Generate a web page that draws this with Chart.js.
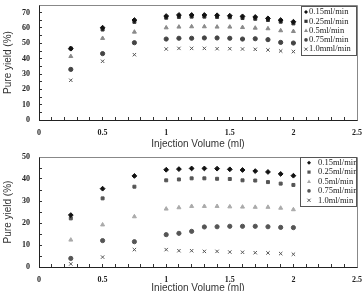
<!DOCTYPE html>
<html>
<head>
<meta charset="utf-8">
<script src="https://cdn.jsdelivr.net/npm/chart.js@4"></script>
<style>
  body { margin: 0; width: 362px; height: 291px; overflow: hidden; background: #fff; position: relative; }
  #topChart { position: absolute; left: 0; top: 0; }
  #botChart { position: absolute; left: 0; top: 150px; }
</style>
</head>
<body>
<canvas id="topChart" width="362" height="150"></canvas>
<canvas id="botChart" width="362" height="144"></canvas>
<script>
// injection volume (ml)
const volumes = [0.25, 0.5, 0.75, 1.0, 1.1, 1.2, 1.3, 1.4, 1.5, 1.6, 1.7, 1.8, 1.9, 2.0];

// top panel, pure yield (%)
const topLabels = ['0.15ml/min', '0.25ml/min', '0.5ml/min', '0.75ml/min', '1.0mml/min'];
const top015 = [46.5, 60.2, 65.2, 67.8, 68.5, 68.5, 68.5, 68.3, 68.0, 67.6, 67.2, 66.3, 65.2, 64.1];
const top025 = [46.7, 59.0, 64.0, 66.7, 67.2, 67.4, 67.4, 67.2, 67.0, 66.5, 66.0, 65.2, 64.1, 63.0];
const top05  = [41.5, 53.3, 57.4, 60.2, 60.7, 60.9, 60.9, 60.7, 60.7, 60.4, 60.0, 59.6, 58.3, 57.8];
const top075 = [33.0, 43.3, 50.4, 52.8, 53.3, 53.3, 53.5, 53.5, 53.3, 52.8, 53.0, 52.4, 50.6, 50.2];
const top10  = [25.9, 38.3, 42.6, 46.3, 46.7, 46.7, 46.7, 46.5, 46.5, 46.3, 46.1, 45.7, 45.0, 44.6];

// bottom panel, pure yield (%)
const botLabels = ['0.15ml/min', '0.25ml/min', '0.5ml/min', '0.75ml/min', '1.0ml/min'];
const bot015 = [23.6, 35.6, 41.4, 44.2, 44.5, 44.8, 44.8, 44.7, 44.4, 44.1, 43.6, 43.2, 42.3, 41.5];
const bot025 = [22.1, 31.2, 36.5, 39.4, 39.8, 40.3, 40.3, 40.1, 40.0, 39.4, 39.3, 38.6, 37.9, 37.3];
const bot05  = [12.3, 19.2, 22.9, 26.4, 27.0, 27.6, 27.6, 27.6, 27.4, 27.3, 27.2, 27.2, 26.8, 26.1];
const bot075 = [3.9, 12.0, 11.5, 14.7, 15.3, 16.2, 18.2, 18.3, 18.5, 18.5, 18.5, 18.3, 18.0, 17.9];
const bot10  = [1.4, 4.5, 7.9, 7.9, 7.4, 7.4, 7.1, 7.1, 6.8, 6.7, 6.5, 6.4, 6.1, 5.8];

const styles = ['rectRot', 'rect', 'triangle', 'circle', 'crossRot'];
const topColors = ['#111', '#333', '#8a8a8a', '#444', '#555'];
const botColors = ['#111', '#555', '#aaa', '#555', '#555'];
const radii = [2.4, 2.1, 2.3, 2.1, 2.4];

function toPoints(vals) {
  return vals.map((v, i) => ({ x: volumes[i], y: v }));
}

function makeSets(labels, series, colors) {
  return series.map((vals, i) => ({
    label: labels[i],
    data: toPoints(vals),
    pointStyle: styles[i],
    pointRadius: radii[i],
    backgroundColor: colors[i],
    borderColor: colors[i],
    borderWidth: 1,
    showLine: false
  }));
}

// grey frame on the top and right of the plot
const frame = {
  id: 'frame',
  beforeDatasetsDraw(chart) {
    const a = chart.chartArea, ctx = chart.ctx;
    ctx.save();
    ctx.strokeStyle = '#888';
    ctx.lineWidth = 1;
    ctx.beginPath();
    ctx.moveTo(Math.round(a.left) + 0.5, Math.round(a.top) + 0.5);
    ctx.lineTo(Math.round(a.right) + 0.5, Math.round(a.top) + 0.5);
    ctx.lineTo(Math.round(a.right) + 0.5, Math.round(a.bottom) + 0.5);
    ctx.stroke();
    ctx.restore();
  }
};

function marker(ctx, style, x, y, r) {
  ctx.beginPath();
  if (style === 'rectRot') {
    ctx.moveTo(x, y - r); ctx.lineTo(x + r, y); ctx.lineTo(x, y + r); ctx.lineTo(x - r, y); ctx.closePath(); ctx.fill();
  } else if (style === 'rect') {
    ctx.fillRect(x - r * 0.8, y - r * 0.8, r * 1.6, r * 1.6);
  } else if (style === 'triangle') {
    ctx.moveTo(x, y - r); ctx.lineTo(x + r, y + r * 0.7); ctx.lineTo(x - r, y + r * 0.7); ctx.closePath(); ctx.fill();
  } else if (style === 'circle') {
    ctx.arc(x, y, r * 0.9, 0, Math.PI * 2); ctx.fill();
  } else {
    ctx.moveTo(x - r * 0.8, y - r * 0.8); ctx.lineTo(x + r * 0.8, y + r * 0.8);
    ctx.moveTo(x + r * 0.8, y - r * 0.8); ctx.lineTo(x - r * 0.8, y + r * 0.8);
    ctx.stroke();
  }
}

// boxed legend inside the plot, top right
const boxLegend = {
  id: 'boxLegend',
  afterDraw(chart, args, o) {
    const ctx = chart.ctx;
    ctx.save();
    ctx.fillStyle = '#fff';
    ctx.fillRect(o.x, o.y, o.w, o.h);
    ctx.strokeStyle = '#555';
    ctx.lineWidth = 1;
    ctx.strokeRect(o.x + 0.5, o.y + 0.5, o.w, o.h);
    ctx.beginPath();
    ctx.rect(o.x + 1, o.y + 1, o.w - 1, o.h - 1);
    ctx.clip();
    chart.data.datasets.forEach((ds, i) => {
      const y = o.y + o.first + i * o.step;
      ctx.fillStyle = ds.backgroundColor;
      ctx.strokeStyle = ds.borderColor;
      marker(ctx, ds.pointStyle, o.mx, y, 2);
      ctx.fillStyle = '#222';
      ctx.font = '8.5px "Liberation Serif", serif';
      ctx.textBaseline = 'middle';
      ctx.textAlign = 'left';
      ctx.fillText(ds.label, o.tx, y);
    });
    ctx.restore();
  }
};

function makeChart(id, sets, yMax, padTop, xHeight, legend) {
  return new Chart(document.getElementById(id), {
    type: 'scatter',
    data: { datasets: sets },
    options: {
      responsive: false,
      animation: false,
      layout: { padding: { top: padTop, right: 5, left: 0, bottom: 0 } },
      plugins: { legend: { display: false }, tooltip: { enabled: false }, boxLegend: legend },
      scales: {
        x: {
          type: 'linear',
          min: 0, max: 2.5,
          afterFit: s => { s.height = xHeight; s.paddingLeft = 0; s.paddingRight = 0; },
          grid: { drawOnChartArea: false, tickLength: -3, color: '#333' },
          border: { color: '#222' },
          ticks: {
            stepSize: 0.1, autoSkip: false, maxRotation: 0, padding: 11,
            color: '#222', font: { family: '"Liberation Serif", serif', size: 8, weight: 'bold' },
            callback: v => Math.abs(v * 2 - Math.round(v * 2)) < 1e-6 ? String(Math.round(v * 10) / 10) : ''
          },
          title: {
            display: true, text: 'Injection Volume (ml)', color: '#333',
            font: { family: '"Liberation Sans", Arial, sans-serif', size: 10 },
            padding: 0
          }
        },
        y: {
          min: 0, max: yMax,
          afterFit: s => { s.width = 39; s.paddingTop = 0; s.paddingBottom = 0; },
          grid: { drawOnChartArea: false, tickLength: -3, color: '#333' },
          border: { color: '#222' },
          ticks: {
            stepSize: 5, autoSkip: false, padding: 12,
            color: '#222', font: { family: '"Liberation Serif", serif', size: 8, weight: 'bold' },
            callback: v => v % 10 === 0 ? String(v) : ''
          },
          title: {
            display: true, text: 'Pure yield (%)', color: '#333',
            font: { family: '"Liberation Sans", Arial, sans-serif', size: 10 },
            padding: 2
          }
        }
      }
    },
    plugins: [frame, boxLegend]
  });
}

makeChart('topChart',
  makeSets(topLabels, [top015, top025, top05, top075, top10], topColors),
  75, 5, 30,
  { x: 301, y: 6, w: 55, h: 49, first: 6, step: 9.3, mx: 306, tx: 309 });

makeChart('botChart',
  makeSets(botLabels, [bot015, bot025, bot05, bot075, bot10], botColors),
  50, 7, 27,
  { x: 300, y: 7, w: 56, h: 49, first: 5.7, step: 9.4, mx: 309, tx: 318 });
</script>
</body>
</html>
